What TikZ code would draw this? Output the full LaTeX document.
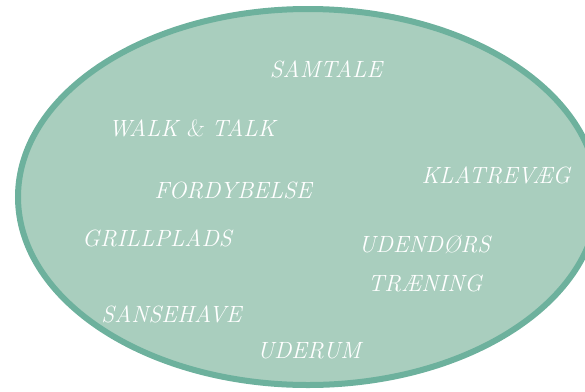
\documentclass[tikz,border=0pt]{standalone}
\usepackage{fontspec}
\usepackage{tikz}
\definecolor{hvfill}{HTML}{A9CEBE}
\definecolor{hvline}{HTML}{6DB19D}

\begin{document}
\begin{tikzpicture}[
  x=1pt, y=-1pt,
  zone/.style={draw=hvline, fill=hvfill, line width=6pt},
  word/.style={text=white, inner sep=0pt, anchor=base,
               font=\fontsize{23.5}{28}\selectfont\itshape}
]
\useasboundingbox (0,0) rectangle (585,391);
\clip (0,0) rectangle (585,391);
\draw[zone] (308,197) ellipse [x radius=290pt, y radius=188pt];

\node[word] (samtale) at (326,77) {SAMTALE};
\node[word] (walk) at (192,136) {WALK \textsl{\&} TALK};
\node[word] (fordyb) at (233,198) {FORDYBELSE};
\node[word] (klatre) at (496,183) {KLATREVÆG};
\node[word] (grill) at (157,246) {GRILLPLADS};
\node[word] (udend) at (424.5,252) {UDENDØRS};
\node[word] (traen) at (425,291) {TRÆNING};
\node[word] (sanse) at (171.5,322) {SANSEHAVE};
\node[word] (uderum) at (309,358) {UDERUM};
\end{tikzpicture}
\end{document}
